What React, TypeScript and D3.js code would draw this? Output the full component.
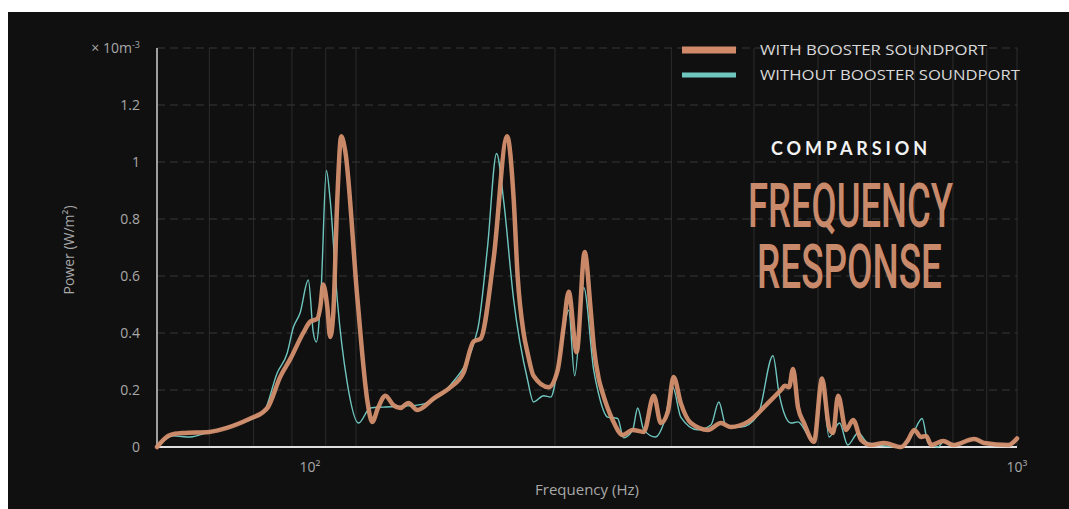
import React, { useEffect, useRef } from 'react';
import * as d3 from 'd3';

// [frequency Hz, power x10^-3 W/m²]
const withBooster: [number, number][] = [
  [50, 0], [52.3, 0.042], [54.7, 0.049], [60, 0.053], [63.8, 0.067], [69.2, 0.1], [72.4, 0.123],
  [73.6, 0.14], [76.8, 0.246], [79.6, 0.31], [83.2, 0.4], [85.3, 0.44], [87.4, 0.45], [88.3, 0.49],
  [89.2, 0.57], [90.5, 0.49], [91.4, 0.386], [92.4, 0.47], [93.7, 0.87], [95.0, 1.09], [96.3, 1.04],
  [100.5, 0.52], [104.0, 0.165], [105.8, 0.088], [108.1, 0.14], [110.8, 0.18], [113.9, 0.147],
  [116.7, 0.137], [120.0, 0.154], [123.8, 0.13], [131.0, 0.17], [139.0, 0.21], [145.4, 0.26],
  [150.6, 0.37], [154.3, 0.38], [161.5, 0.66], [169.3, 1.09], [173.2, 0.87], [175.6, 0.6],
  [179.3, 0.4], [181.8, 0.33], [185.6, 0.25], [195.6, 0.21], [201.9, 0.27], [206.1, 0.42],
  [209.8, 0.545], [215.7, 0.333], [221.8, 0.684], [226.5, 0.48], [229, 0.35], [232.9, 0.24],
  [236.1, 0.19], [244.5, 0.095], [253.2, 0.042], [262.2, 0.06], [272.5, 0.053], [282.2, 0.18],
  [289.2, 0.084], [296.3, 0.123], [302.3, 0.246], [310, 0.154], [321.1, 0.084], [340.7, 0.06],
  [356.5, 0.084], [369.1, 0.07], [391.6, 0.088], [420, 0.154], [439.4, 0.2], [445.6, 0.215],
  [452, 0.21], [458.3, 0.274], [466.3, 0.14], [476.2, 0.084], [493, 0.018], [507, 0.24],
  [519.5, 0.07], [526.9, 0.049], [536.2, 0.18], [551.3, 0.06], [565, 0.095], [581, 0.025],
  [601.5, 0.007], [629.5, 0.014], [667.8, 0.0], [684.4, 0.025], [699, 0.06], [716.2, 0.035],
  [728.9, 0.039], [741.7, 0.007], [773.5, 0.021], [800.9, 0.007], [861.7, 0.028], [892.2, 0.014],
  [970.3, 0.007], [1000, 0.03],
];

const withoutBooster: [number, number][] = [
  [50, 0], [52.9, 0.039], [56.1, 0.035], [60, 0.053], [65.2, 0.077], [72.4, 0.12], [76.0, 0.26],
  [78.7, 0.33], [80.4, 0.42], [82.3, 0.47], [84.7, 0.586], [86.2, 0.4], [87.1, 0.368], [88.6, 0.56],
  [90.2, 0.97], [91.4, 0.867], [93.7, 0.516], [97.0, 0.225], [100.9, 0.084], [105.1, 0.137],
  [110.0, 0.14], [123.8, 0.147], [139.0, 0.218], [152.7, 0.41], [158.1, 0.7], [163.2, 1.03],
  [167.2, 0.867], [173.2, 0.516], [181.8, 0.235], [185.6, 0.158], [192.3, 0.18], [197, 0.175],
  [204, 0.34], [209.8, 0.48], [214.2, 0.25], [221.1, 0.56], [228.9, 0.27], [232.1, 0.2],
  [240.3, 0.105], [248.8, 0.1], [254, 0.032], [262.2, 0.06], [266.8, 0.137], [272.5, 0.06],
  [284.1, 0.035], [292.2, 0.084], [301.5, 0.21], [310, 0.105], [329, 0.06], [344.3, 0.077],
  [354, 0.158], [362.7, 0.077], [382.2, 0.07], [405.6, 0.112], [427.4, 0.32], [436.4, 0.19],
  [444.1, 0.12], [455.1, 0.084], [466.3, 0.088], [482.9, 0.042], [493, 0.025], [507, 0.235],
  [519.5, 0.035], [539, 0.084], [554.5, 0.007], [575, 0.049], [595.3, 0.014], [667.8, 0],
  [696.4, 0.049], [718.6, 0.1], [733.7, 0.014], [760, 0], [773.5, 0.018], [800.9, 0.007],
  [861.7, 0.028], [892.2, 0.014], [970.3, 0.007], [1000, 0.025],
];

const yTicks = [0, 0.2, 0.4, 0.6, 0.8, 1, 1.2];
const yGrid = [0.2, 0.4, 0.6, 0.8, 1, 1.2, 1.4];
const xGrid = [60, 70, 80, 90, 100, 200, 300, 400, 500, 600, 700, 800, 900, 1000];
const xTicks = [100, 1000];
const xTickLabels = ['10²', '10³'];
const seriesNames = ['WITH BOOSTER SOUNDPORT', 'WITHOUT BOOSTER SOUNDPORT'];

const App: React.FC = () => {
  const ref = useRef<SVGSVGElement>(null);

  useEffect(() => {
    const svg = d3.select(ref.current);
    svg.selectAll('*').remove();

    const width = 1069;
    const height = 509;
    const orange = '#d4906e';
    const teal = '#6fc6bf';
    const font = "'Open Sans', 'Noto Sans', sans-serif";

    const x = d3.scaleLog().domain([50, 1000]).range([157, 1017]);
    const y = d3.scaleLinear().domain([0, 1.4]).range([447, 48]);

    // dark panel (page shows a white strip top and left)
    svg.append('rect').attr('width', width).attr('height', height).attr('fill', '#ffffff');
    svg.append('rect').attr('x', 8).attr('y', 12).attr('width', width - 8).attr('height', height - 12).attr('fill', '#101010');

    // grid
    svg.append('g')
      .selectAll('line')
      .data(xGrid)
      .join('line')
      .attr('x1', d => x(d)).attr('x2', d => x(d))
      .attr('y1', y(1.4)).attr('y2', y(0))
      .attr('stroke', '#2c2c2c').attr('stroke-width', 1);

    svg.append('g')
      .selectAll('line')
      .data(yGrid)
      .join('line')
      .attr('x1', x(50)).attr('x2', x(1000))
      .attr('y1', d => y(d)).attr('y2', d => y(d))
      .attr('stroke', '#363636').attr('stroke-width', 1).attr('stroke-dasharray', '8 5');

    // axes
    svg.append('line')
      .attr('x1', x(50)).attr('x2', x(50)).attr('y1', y(1.4)).attr('y2', y(0))
      .attr('stroke', '#cfcfcf').attr('stroke-width', 1.5);
    svg.append('line')
      .attr('x1', x(50)).attr('x2', x(1000)).attr('y1', y(0)).attr('y2', y(0))
      .attr('stroke', '#e0e0e0').attr('stroke-width', 2);

    svg.append('g')
      .selectAll('text')
      .data(yTicks)
      .join('text')
      .attr('x', 140).attr('y', d => y(d)).attr('dy', '0.35em')
      .attr('text-anchor', 'end')
      .attr('font-family', font).attr('font-size', 14).attr('fill', '#a8a8a8')
      .text(d => d3.format('~g')(d));

    svg.append('text')
      .attr('x', 140).attr('y', y(1.4)).attr('dy', '0.35em')
      .attr('text-anchor', 'end')
      .attr('font-family', font).attr('font-size', 14).attr('fill', '#a8a8a8')
      .call(t => t.append('tspan').text('× 10m'))
      .call(t => t.append('tspan').attr('font-size', 9).attr('dy', '-0.6em').text('-3'));

    // the 10² label sits left of its grid line in the original design
    const labelShift = [-46, 0];
    svg.append('g')
      .selectAll('text')
      .data(xTicks)
      .join('text')
      .attr('x', (d, i) => x(d) + labelShift[i]).attr('y', 472)
      .attr('text-anchor', 'middle')
      .attr('font-family', font).attr('font-size', 14).attr('fill', '#a8a8a8')
      .text((d, i) => xTickLabels[i]);

    svg.append('text')
      .attr('x', 587).attr('y', 495)
      .attr('text-anchor', 'middle')
      .attr('font-family', font).attr('font-size', 15).attr('fill', '#a8a8a8')
      .text('Frequency (Hz)');

    svg.append('text')
      .attr('transform', 'translate(74,250) rotate(-90)')
      .attr('text-anchor', 'middle')
      .attr('font-family', font).attr('font-size', 14).attr('fill', '#a8a8a8')
      .text('Power (W/m²)');

    // curves
    const line = d3.line<[number, number]>()
      .x(d => x(d[0]))
      .y(d => y(d[1]))
      .curve(d3.curveMonotoneX);

    svg.append('path')
      .datum(withoutBooster)
      .attr('d', line)
      .attr('fill', 'none').attr('stroke', teal).attr('stroke-width', 1.4);

    svg.append('path')
      .datum(withBooster)
      .attr('d', line)
      .attr('fill', 'none').attr('stroke', orange).attr('stroke-width', 4.5)
      .attr('stroke-linejoin', 'round').attr('stroke-linecap', 'round')
      .attr('opacity', 0.95);

    // legend
    const legend = svg.append('g').attr('transform', 'translate(682,50)');
    const items = legend.selectAll('g')
      .data(seriesNames)
      .join('g')
      .attr('transform', (d, i) => `translate(0,${i * 25})`);
    items.append('line')
      .attr('x1', 0).attr('x2', 54)
      .attr('stroke', (d, i) => (i === 0 ? '#d08a69' : '#6fc6bf'))
      .attr('stroke-width', (d, i) => (i === 0 ? 7 : 5));
    items.append('text')
      .attr('x', 78).attr('dy', '0.36em')
      .attr('font-family', font).attr('font-size', 14).attr('fill', '#dadada')
      .attr('textLength', (d, i) => (i === 0 ? 227 : 260))
      .attr('lengthAdjust', 'spacingAndGlyphs')
      .text(d => d);

    // title block
    svg.append('text')
      .attr('x', 771).attr('y', 155)
      .attr('font-family', "'Lato', 'Open Sans', sans-serif").attr('font-weight', 700)
      .attr('font-size', 18).attr('fill', '#f2f2f2')
      .attr('textLength', 156).attr('lengthAdjust', 'spacing')
      .text('COMPARSION');

    svg.append('text')
      .attr('x', 748).attr('y', 227)
      .attr('font-family', "'Roboto', sans-serif").attr('font-weight', 500)
      .attr('font-size', 62).attr('fill', '#c88a6b')
      .attr('textLength', 205).attr('lengthAdjust', 'spacingAndGlyphs')
      .text('FREQUENCY');

    svg.append('text')
      .attr('x', 757).attr('y', 288)
      .attr('font-family', "'Roboto', sans-serif").attr('font-weight', 500)
      .attr('font-size', 62).attr('fill', '#c88a6b')
      .attr('textLength', 185).attr('lengthAdjust', 'spacingAndGlyphs')
      .text('RESPONSE');
  }, []);

  return (
    <>
      <style>{'body{margin:0;}'}</style>
      <svg ref={ref} width={1069} height={509} style={{ display: 'block' }} />
    </>
  );
};

export default App;
